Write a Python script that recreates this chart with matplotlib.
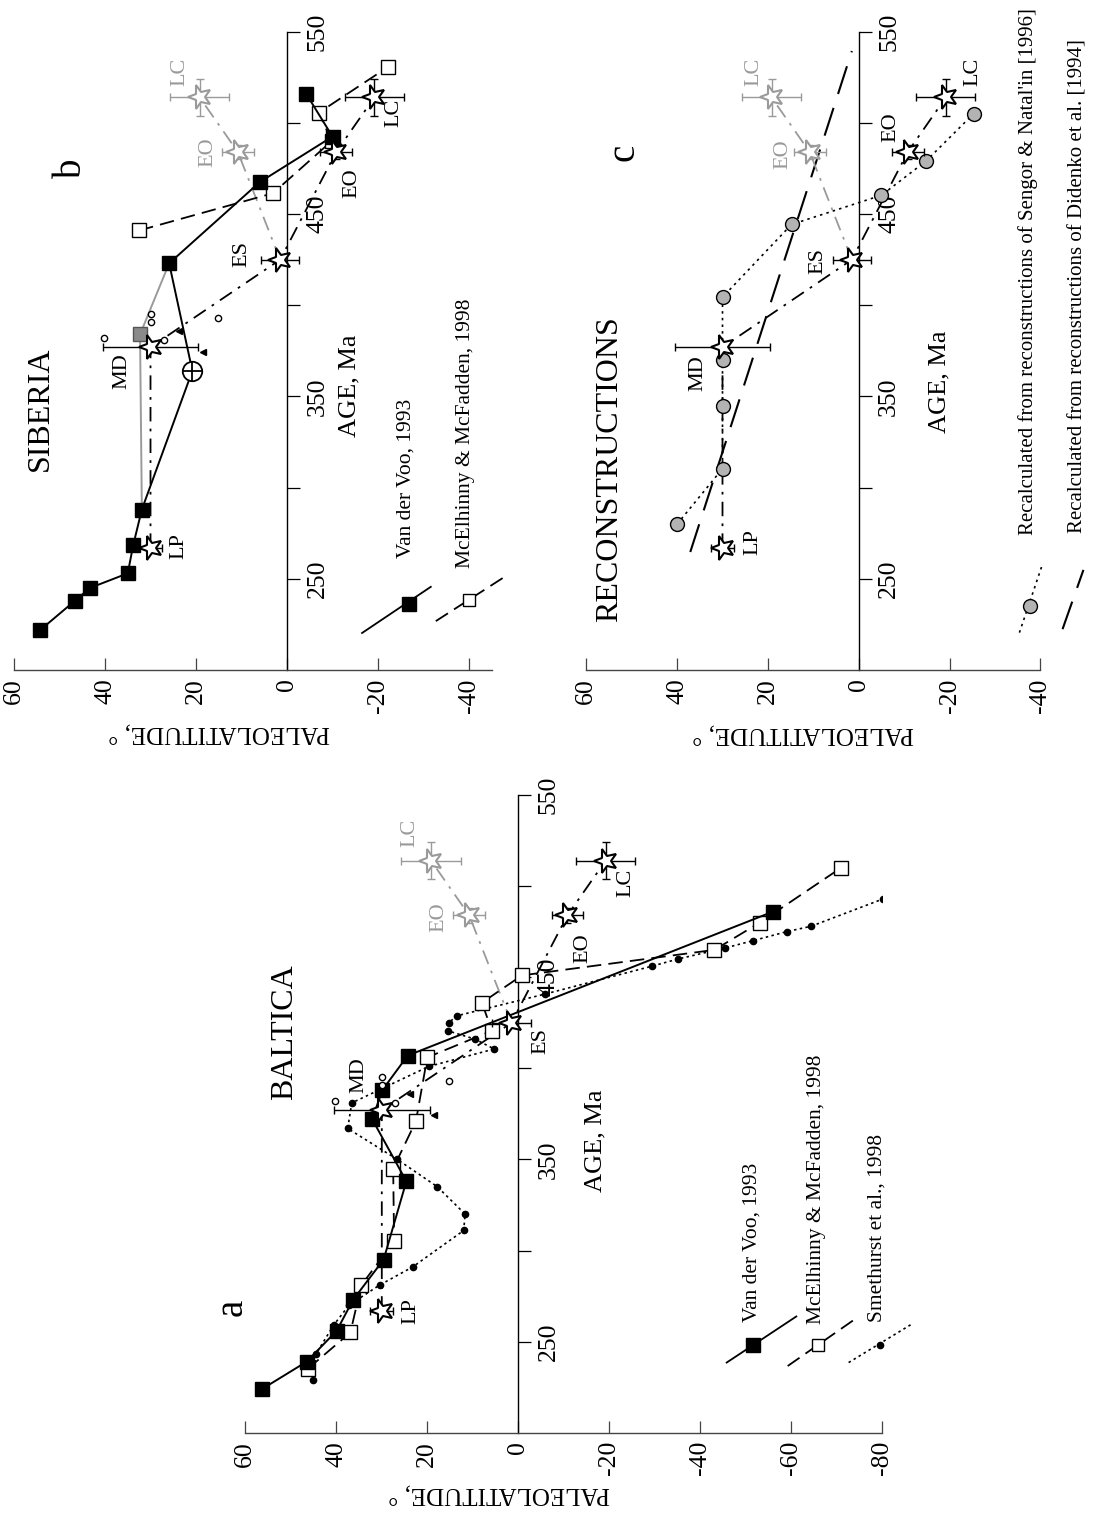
import numpy as np
import matplotlib
matplotlib.use('Agg')
import matplotlib.pyplot as plt
from matplotlib.markers import MarkerStyle
from matplotlib.transforms import Affine2D

plt.rcParams['font.family'] = ['Liberation Serif', 'DejaVu Serif']

# ---------------- data: age (Ma) and paleolatitude (deg) ----------------
# a - Baltica
a_vdv_age = [224, 239, 256, 273, 295, 338, 372, 388, 407, 486]
a_vdv_lat = [56.3, 46.5, 39.9, 36.3, 29.6, 24.6, 32.1, 29.9, 24.3, -56]
a_mce_age = [235, 255, 281, 305, 345, 371, 406, 420.6, 436, 451, 465, 480, 510]
a_mce_lat = [46.3, 36.9, 34.5, 27.3, 27.5, 22.5, 20, 5.8, 8, -0.8, -43.1, -53.1, -70.9]
a_smt_age = [229, 243, 259, 270, 281, 291, 311, 320, 335, 350, 367, 381, 401,
             410.6, 416, 420.6, 425, 428.8, 440.7, 456, 460, 466, 470, 475, 478, 493, 500]
a_smt_lat = [45.1, 44.5, 40.6, 37.2, 30.5, 23.2, 12, 11.7, 17.8, 26.6, 37.5, 36.6, 19.7,
             5.3, 9.5, 15.5, 15.3, 13.5, -5.8, -29.3, -35.1, -45.4, -51.5, -59, -64.4, -80.2, -82.7]

# b - Siberia
b_vdv_age = [222, 238, 245, 253, 268.5, 288, 364, 423, 467.5, 492.5, 516]
b_vdv_lat = [54.2, 46.6, 43.3, 35, 33.8, 31.9, 20.8, 25.9, 6.0, -10.0, -4.2]
b_cross_age = [364]          # circle-cross pole on the Van der Voo path
b_cross_lat = [20.8]
b_mce_age = [441, 461.4, 490, 505.6, 530.5]
b_mce_lat = [32.5, 3.1, -9.8, -7.0, -22.1]
b_gray_age = [288, 384, 423]
b_gray_lat = [31.9, 32.3, 25.9]

# c - reconstructions
c_sen_age = [280, 310.4, 345, 370, 404.4, 444.3, 460.3, 479, 505]
c_sen_lat = [40, 30, 30, 30, 30, 14.8, -5, -14.8, -25.3]
c_did_age = [264.7, 539.4]
c_did_lat = [37.1, 1.5]

# star poles (same in all panels)
star_names = ['LP', 'MD', 'ES', 'EO', 'LC']
star_age = [267, 377, 425, 484, 514]
star_lat = [30, 30, 1.5, -10.8, -19.2]
star_lat_err = [2.5, 10.5, 4.2, 3.5, 6.5]
star_age_err = [0, 0, 0, 4, 10]
gray_names = ['EO', 'LC']
gray_age = [484, 514]
gray_lat = [10.8, 19.2]
gray_lat_err = [3.5, 6.5]
gray_age_err = [4, 10]

# small individual poles around MD (Baltica and Siberia)
circ_age = [382, 391, 395, 381, 393]
circ_lat = [40.2, 30, 30, 27, 15.2]
tri_age = [386, 374.5]
tri_lat = [23.7, 18.5]

age_ticks = [250, 300, 350, 400, 450, 500, 550]
age_ticklabels = ['250', '', '350', '', '450', '', '550']

GRAY = '#9a9a9a'
STAR = MarkerStyle('*', transform=Affine2D().rotate_deg(90))

fig = plt.figure(figsize=(11, 15.13), dpi=100)


def make_axes(rect, lat_lo):
    ax = fig.add_axes(rect)
    ax.set_xlim(60, lat_lo)
    ax.set_ylim(200, 550)
    ax.patch.set_visible(False)
    ax.spines['top'].set_visible(False)
    ax.spines['left'].set_visible(False)
    ax.spines['right'].set_position(('data', 0))
    ax.spines['bottom'].set_color('#444444')
    ax.spines['bottom'].set_linewidth(1.0)
    ax.spines['right'].set_linewidth(1.0)
    xt = np.arange(60, lat_lo - 0.1, -20)
    ax.set_xticks(xt)
    ax.set_xticklabels([str(int(v)) for v in xt], rotation=90)
    ax.yaxis.set_ticks_position('right')
    ax.set_yticks(age_ticks)
    ax.set_yticklabels(age_ticklabels, rotation=90, va='center')
    ax.tick_params(axis='x', direction='in', length=9, width=0.9, pad=6,
                   labelsize=18.5, color='#444444')
    ax.tick_params(axis='y', direction='out', length=9, width=0.9, pad=5,
                   labelsize=18.5)
    return ax


def rtext(ax, lat, age, s, size=15, color='k', rot=90, **kw):
    ax.text(lat, age, s, rotation=rot, ha=kw.pop('ha', 'center'),
            va=kw.pop('va', 'center'), fontsize=size, color=color,
            clip_on=False, **kw)


def draw_stars(ax, lbl_lat, lbl_age, glbl_lat, glbl_age):
    # black path LP-MD-ES-EO-LC and gray path ES-EO-LC
    ax.plot(star_lat, star_age, color='k', lw=1.3, ls=(0, (8, 4, 1.5, 4)), zorder=2)
    ax.plot([star_lat[2]] + gray_lat, [star_age[2]] + gray_age, color=GRAY,
            lw=1.3, ls=(0, (8, 4, 1.5, 4)), zorder=2)
    ax.errorbar(star_lat, star_age, xerr=star_lat_err, yerr=star_age_err,
                fmt='none', ecolor='k', elinewidth=1.0, capsize=3, zorder=4)
    ax.errorbar(gray_lat, gray_age, xerr=gray_lat_err, yerr=gray_age_err,
                fmt='none', ecolor=GRAY, elinewidth=1.0, capsize=3, zorder=4)
    ax.plot(star_lat, star_age, ls='none', marker=STAR, ms=18, mfc='white',
            mec='k', mew=1.5, zorder=5)
    ax.plot(gray_lat, gray_age, ls='none', marker=STAR, ms=18, mfc='white',
            mec=GRAY, mew=1.5, zorder=5)
    for n, la, ag in zip(star_names, lbl_lat, lbl_age):
        rtext(ax, la, ag, n, 16)
    for n, la, ag in zip(gray_names, glbl_lat, glbl_age):
        rtext(ax, la, ag, n, 16, color=GRAY)


def draw_small_poles(ax):
    ax.plot(circ_lat, circ_age, ls='none', marker='o', ms=4.5, mfc='white',
            mec='k', mew=1.0, zorder=4)
    ax.plot(tri_lat, tri_age, ls='none', marker='<', ms=5, color='k', zorder=4)


def legend_item(ax, lat_pair, age_pair, mlat, mage, text, tlat, tage,
                ls, lw=1.3, size=15.5, **mk):
    ax.plot(lat_pair, age_pair, color='k', lw=lw, ls=ls, clip_on=False)
    if mk:
        ax.plot([mlat], [mage], ls='none', clip_on=False, **mk)
    rtext(ax, tlat, tage, text, size, va='bottom')


# ---------------- panel a: Baltica ----------------
ax = make_axes([0.2230, 0.05307, 0.5791, 0.42148], -80)
ax.plot(a_smt_lat, a_smt_age, color='k', lw=1.2, ls=(0, (1.5, 2)), marker='o',
        ms=4.5, zorder=2)
ax.plot(a_mce_lat, a_mce_age, color='k', lw=1.3, ls=(0, (8, 4)), marker='s',
        ms=10, mfc='white', mec='k', mew=1.0, zorder=3)
ax.plot(a_vdv_lat, a_vdv_age, color='k', lw=1.4, ls='-', marker='s', ms=10,
        zorder=3)
draw_small_poles(ax)
draw_stars(ax, [23.7, 35, -5, -14.1, -23.7], [267, 396, 415, 466, 502],
           [17.4, 23.8], [483, 529])
rtext(ax, 51.4, 419.6, 'BALTICA', 23)
rtext(ax, 62.9, 268.7, 'a', 28)
rtext(ax, -17, 360, 'AGE, Ma', 19)
rtext(ax, 4.2, 166.4, 'PALEOLATITUDE, \u00b0', 18, rot=180)
legend_item(ax, [-45.8, -61.1], [238.5, 263.8], -51.5, 248, 'Van der Voo, 1993',
            -51.3, 260.5, '-', marker='s', ms=10, color='k')
legend_item(ax, [-59.2, -73.8], [236.6, 262], -65.9, 248,
            'McElhinny & McFadden, 1998', -65.6, 259.5, (0, (8, 4)),
            marker='s', ms=9, mfc='white', mec='k', mew=1.0)
legend_item(ax, [-72.6, -86.6], [238.5, 259.8], -79.5, 248,
            'Smethurst et al., 1998', -78.8, 260.5, (0, (1.5, 2)), lw=1.2,
            marker='o', ms=4.5, color='k')

# ---------------- panel b: Siberia ----------------
ax = make_axes([0.01273, 0.55717, 0.43432, 0.42188], -45)
ax.plot(b_gray_lat, b_gray_age, color=GRAY, lw=1.4, zorder=2)
ax.plot(b_gray_lat[1], b_gray_age[1], ls='none', marker='s', ms=10,
        mfc='#8a8a8a', mec='#555555', zorder=3)
ax.plot(b_mce_lat, b_mce_age, color='k', lw=1.3, ls=(0, (8, 4)), marker='s',
        ms=10, mfc='white', mec='k', mew=1.0, zorder=3)
ax.plot(b_vdv_lat, b_vdv_age, color='k', lw=1.4, zorder=3)
sq = [i for i, g in enumerate(b_vdv_age) if g not in b_cross_age]
ax.plot([b_vdv_lat[i] for i in sq], [b_vdv_age[i] for i in sq], ls='none',
        marker='s', ms=10, color='k', zorder=3)
ax.plot(b_cross_lat, b_cross_age, ls='none', marker='o', ms=14, mfc='white',
        mec='k', mew=1.3, zorder=4)
ax.plot(b_cross_lat, b_cross_age, ls='none', marker='+', ms=14, mec='k',
        mew=1.3, zorder=4)
draw_small_poles(ax)
draw_stars(ax, [23.8, 36.2, 10, -14.2, -23.5], [268, 364, 428, 467, 505.5],
           [17.3, 23.5], [484, 528])
rtext(ax, 54.2, 343, 'SIBERIA', 23)
rtext(ax, 47.3, 475, 'b', 28)
rtext(ax, -13.8, 356, 'AGE, Ma', 19)
rtext(ax, 15, 165.5, 'PALEOLATITUDE, \u00b0', 18, rot=180)
legend_item(ax, [-16.5, -31.6], [220.3, 245.6], -26.8, 236.3, 'Van der Voo, 1993',
            -26.2, 261.5, '-', marker='s', ms=10, color='k')
legend_item(ax, [-32.7, -47.7], [226.8, 250.9], -40, 238.3,
            'McElhinny & McFadden, 1998', -39.2, 256, (0, (8, 4)),
            marker='s', ms=9, mfc='white', mec='k', mew=1.0)

# ---------------- panel c: reconstructions ----------------
ax = make_axes([0.5330, 0.55717, 0.41273, 0.42188], -40)
ax.plot(c_did_lat, c_did_age, color='k', lw=1.5, ls=(0, (14, 7)), zorder=2)
ax.plot(c_sen_lat, c_sen_age, color='k', lw=1.2, ls=(0, (1.5, 2.5)), marker='o',
        ms=10, mfc='#b3b3b3', mec='k', mew=1.0, zorder=3)
draw_stars(ax, [23.2, 35.5, 8.9, -7, -25.1], [270, 363, 424, 497.6, 528],
           [16.6, 23], [483, 528])
rtext(ax, 54.8, 310, 'RECONSTRUCTIONS', 23)
rtext(ax, 51.7, 484, 'c', 28)
rtext(ax, -17.8, 358, 'AGE, Ma', 19)
rtext(ax, 12.3, 165, 'PALEOLATITUDE, \u00b0', 18, rot=180)
legend_item(ax, [-35.4, -40.3], [220.5, 256.7], -37.7, 235.3,
            "Recalculated from reconstructions of Sengor & Natal'in [1996]",
            -37.2, 274, (0, (1.5, 2.5)), lw=1.2, size=15, marker='o', ms=10,
            mfc='#b3b3b3', mec='k', mew=1.0)
legend_item(ax, [-44.9, -49.5], [222.4, 254.9], None, None,
            'Recalculated from reconstructions of Didenko et al. [1994]',
            -48.3, 275, (0, (14, 7)), lw=1.5, size=15)

fig.savefig('out.png', dpi=100)
